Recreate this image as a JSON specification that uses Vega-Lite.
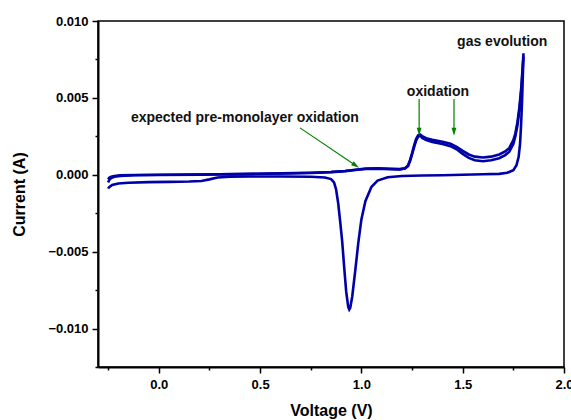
{
  "$schema": "https://vega.github.io/schema/vega-lite/v6.json",
  "width": 466,
  "height": 346,
  "autosize": {"type": "none"},
  "padding": {"left": 98, "top": 21, "right": 7, "bottom": 53},
  "background": "white",
  "config": {"view": {"stroke": "black", "strokeWidth": 1.5}, "font": "Liberation Sans"},
  "resolve": {"axis": {"x": "independent", "y": "independent"}},
  "datasets": {
    "cv": [
      {"cycle": 1, "n": 1, "v": -0.25, "i": -0.00030},
      {"cycle": 1, "n": 2, "v": -0.245, "i": -0.00020},
      {"cycle": 1, "n": 3, "v": -0.235, "i": -0.00013},
      {"cycle": 1, "n": 4, "v": -0.22, "i": -0.00008},
      {"cycle": 1, "n": 5, "v": -0.19, "i": -0.00004},
      {"cycle": 1, "n": 6, "v": -0.12, "i": -0.00001},
      {"cycle": 1, "n": 7, "v": 0.0, "i": 0.00000},
      {"cycle": 1, "n": 8, "v": 0.2, "i": 0.00002},
      {"cycle": 1, "n": 9, "v": 0.4, "i": 0.00005},
      {"cycle": 1, "n": 10, "v": 0.6, "i": 0.00009},
      {"cycle": 1, "n": 11, "v": 0.75, "i": 0.00013},
      {"cycle": 1, "n": 12, "v": 0.85, "i": 0.00018},
      {"cycle": 1, "n": 13, "v": 0.92, "i": 0.00025},
      {"cycle": 1, "n": 14, "v": 0.97, "i": 0.00033},
      {"cycle": 1, "n": 15, "v": 1.02, "i": 0.00040},
      {"cycle": 1, "n": 16, "v": 1.08, "i": 0.00042},
      {"cycle": 1, "n": 17, "v": 1.14, "i": 0.00039},
      {"cycle": 1, "n": 18, "v": 1.19, "i": 0.00037},
      {"cycle": 1, "n": 19, "v": 1.215, "i": 0.00042},
      {"cycle": 1, "n": 20, "v": 1.23, "i": 0.00060},
      {"cycle": 1, "n": 21, "v": 1.24, "i": 0.00095},
      {"cycle": 1, "n": 22, "v": 1.25, "i": 0.00140},
      {"cycle": 1, "n": 23, "v": 1.26, "i": 0.00190},
      {"cycle": 1, "n": 24, "v": 1.27, "i": 0.00232},
      {"cycle": 1, "n": 25, "v": 1.28, "i": 0.00257},
      {"cycle": 1, "n": 26, "v": 1.29, "i": 0.00262},
      {"cycle": 1, "n": 27, "v": 1.30, "i": 0.00252},
      {"cycle": 1, "n": 28, "v": 1.32, "i": 0.00238},
      {"cycle": 1, "n": 29, "v": 1.35, "i": 0.00228},
      {"cycle": 1, "n": 30, "v": 1.40, "i": 0.00215},
      {"cycle": 1, "n": 31, "v": 1.44, "i": 0.00202},
      {"cycle": 1, "n": 32, "v": 1.47, "i": 0.00182},
      {"cycle": 1, "n": 33, "v": 1.50, "i": 0.00155},
      {"cycle": 1, "n": 34, "v": 1.53, "i": 0.00132},
      {"cycle": 1, "n": 35, "v": 1.56, "i": 0.00118},
      {"cycle": 1, "n": 36, "v": 1.60, "i": 0.00112},
      {"cycle": 1, "n": 37, "v": 1.64, "i": 0.00118},
      {"cycle": 1, "n": 38, "v": 1.68, "i": 0.00132},
      {"cycle": 1, "n": 39, "v": 1.71, "i": 0.00152},
      {"cycle": 1, "n": 40, "v": 1.73, "i": 0.00175},
      {"cycle": 1, "n": 41, "v": 1.75, "i": 0.00225},
      {"cycle": 1, "n": 42, "v": 1.76, "i": 0.00270},
      {"cycle": 1, "n": 43, "v": 1.77, "i": 0.00340},
      {"cycle": 1, "n": 44, "v": 1.78, "i": 0.00440},
      {"cycle": 1, "n": 45, "v": 1.79, "i": 0.00580},
      {"cycle": 1, "n": 46, "v": 1.80, "i": 0.00790},
      {"cycle": 1, "n": 47, "v": 1.797, "i": 0.00650},
      {"cycle": 1, "n": 48, "v": 1.793, "i": 0.00480},
      {"cycle": 1, "n": 49, "v": 1.788, "i": 0.00320},
      {"cycle": 1, "n": 50, "v": 1.783, "i": 0.00200},
      {"cycle": 1, "n": 51, "v": 1.776, "i": 0.00115},
      {"cycle": 1, "n": 52, "v": 1.765, "i": 0.00060},
      {"cycle": 1, "n": 53, "v": 1.75, "i": 0.00030},
      {"cycle": 1, "n": 54, "v": 1.72, "i": 0.00013},
      {"cycle": 1, "n": 55, "v": 1.68, "i": 0.00006},
      {"cycle": 1, "n": 56, "v": 1.60, "i": 0.00003},
      {"cycle": 1, "n": 57, "v": 1.50, "i": 0.00000},
      {"cycle": 1, "n": 58, "v": 1.40, "i": -0.00003},
      {"cycle": 1, "n": 59, "v": 1.30, "i": -0.00005},
      {"cycle": 1, "n": 60, "v": 1.20, "i": -0.00008},
      {"cycle": 1, "n": 61, "v": 1.13, "i": -0.00016},
      {"cycle": 1, "n": 62, "v": 1.08, "i": -0.00038},
      {"cycle": 1, "n": 63, "v": 1.05, "i": -0.00078},
      {"cycle": 1, "n": 64, "v": 1.02, "i": -0.00170},
      {"cycle": 1, "n": 65, "v": 1.00, "i": -0.00290},
      {"cycle": 1, "n": 66, "v": 0.985, "i": -0.00440},
      {"cycle": 1, "n": 67, "v": 0.97, "i": -0.00620},
      {"cycle": 1, "n": 68, "v": 0.955, "i": -0.00790},
      {"cycle": 1, "n": 69, "v": 0.945, "i": -0.00865},
      {"cycle": 1, "n": 70, "v": 0.94, "i": -0.00876},
      {"cycle": 1, "n": 71, "v": 0.935, "i": -0.00860},
      {"cycle": 1, "n": 72, "v": 0.925, "i": -0.00760},
      {"cycle": 1, "n": 73, "v": 0.915, "i": -0.00600},
      {"cycle": 1, "n": 74, "v": 0.905, "i": -0.00430},
      {"cycle": 1, "n": 75, "v": 0.895, "i": -0.00300},
      {"cycle": 1, "n": 76, "v": 0.885, "i": -0.00180},
      {"cycle": 1, "n": 77, "v": 0.875, "i": -0.00095},
      {"cycle": 1, "n": 78, "v": 0.865, "i": -0.00050},
      {"cycle": 1, "n": 79, "v": 0.85, "i": -0.00028},
      {"cycle": 1, "n": 80, "v": 0.82, "i": -0.00018},
      {"cycle": 1, "n": 81, "v": 0.75, "i": -0.00013},
      {"cycle": 1, "n": 82, "v": 0.6, "i": -0.00011},
      {"cycle": 1, "n": 83, "v": 0.45, "i": -0.00011},
      {"cycle": 1, "n": 84, "v": 0.35, "i": -0.00013},
      {"cycle": 1, "n": 85, "v": 0.29, "i": -0.00018},
      {"cycle": 1, "n": 86, "v": 0.25, "i": -0.00030},
      {"cycle": 1, "n": 87, "v": 0.21, "i": -0.00040},
      {"cycle": 1, "n": 88, "v": 0.15, "i": -0.00044},
      {"cycle": 1, "n": 89, "v": 0.05, "i": -0.00046},
      {"cycle": 1, "n": 90, "v": -0.05, "i": -0.00048},
      {"cycle": 1, "n": 91, "v": -0.15, "i": -0.00052},
      {"cycle": 1, "n": 92, "v": -0.20, "i": -0.00057},
      {"cycle": 1, "n": 93, "v": -0.23, "i": -0.00066},
      {"cycle": 1, "n": 94, "v": -0.245, "i": -0.00080},
      {"cycle": 1, "n": 95, "v": -0.25, "i": -0.00090},
      {"cycle": 2, "n": 1, "v": -0.25, "i": -0.00050},
      {"cycle": 2, "n": 2, "v": -0.245, "i": -0.00035},
      {"cycle": 2, "n": 3, "v": -0.235, "i": -0.00022},
      {"cycle": 2, "n": 4, "v": -0.22, "i": -0.00013},
      {"cycle": 2, "n": 5, "v": -0.19, "i": -0.00007},
      {"cycle": 2, "n": 6, "v": -0.12, "i": -0.00003},
      {"cycle": 2, "n": 7, "v": 0.0, "i": -0.00001},
      {"cycle": 2, "n": 8, "v": 0.2, "i": 0.00001},
      {"cycle": 2, "n": 9, "v": 0.4, "i": 0.00004},
      {"cycle": 2, "n": 10, "v": 0.6, "i": 0.00008},
      {"cycle": 2, "n": 11, "v": 0.75, "i": 0.00012},
      {"cycle": 2, "n": 12, "v": 0.85, "i": 0.00017},
      {"cycle": 2, "n": 13, "v": 0.92, "i": 0.00024},
      {"cycle": 2, "n": 14, "v": 0.97, "i": 0.00031},
      {"cycle": 2, "n": 15, "v": 1.02, "i": 0.00038},
      {"cycle": 2, "n": 16, "v": 1.08, "i": 0.00040},
      {"cycle": 2, "n": 17, "v": 1.14, "i": 0.00037},
      {"cycle": 2, "n": 18, "v": 1.19, "i": 0.00035},
      {"cycle": 2, "n": 19, "v": 1.215, "i": 0.00040},
      {"cycle": 2, "n": 20, "v": 1.23, "i": 0.00056},
      {"cycle": 2, "n": 21, "v": 1.24, "i": 0.00088},
      {"cycle": 2, "n": 22, "v": 1.25, "i": 0.00132},
      {"cycle": 2, "n": 23, "v": 1.26, "i": 0.00180},
      {"cycle": 2, "n": 24, "v": 1.27, "i": 0.00222},
      {"cycle": 2, "n": 25, "v": 1.28, "i": 0.00248},
      {"cycle": 2, "n": 26, "v": 1.29, "i": 0.00254},
      {"cycle": 2, "n": 27, "v": 1.30, "i": 0.00240},
      {"cycle": 2, "n": 28, "v": 1.32, "i": 0.00226},
      {"cycle": 2, "n": 29, "v": 1.35, "i": 0.00214},
      {"cycle": 2, "n": 30, "v": 1.40, "i": 0.00200},
      {"cycle": 2, "n": 31, "v": 1.44, "i": 0.00186},
      {"cycle": 2, "n": 32, "v": 1.47, "i": 0.00166},
      {"cycle": 2, "n": 33, "v": 1.50, "i": 0.00136},
      {"cycle": 2, "n": 34, "v": 1.53, "i": 0.00110},
      {"cycle": 2, "n": 35, "v": 1.56, "i": 0.00094},
      {"cycle": 2, "n": 36, "v": 1.60, "i": 0.00088},
      {"cycle": 2, "n": 37, "v": 1.64, "i": 0.00094},
      {"cycle": 2, "n": 38, "v": 1.68, "i": 0.00108},
      {"cycle": 2, "n": 39, "v": 1.71, "i": 0.00128},
      {"cycle": 2, "n": 40, "v": 1.73, "i": 0.00150},
      {"cycle": 2, "n": 41, "v": 1.75, "i": 0.00200},
      {"cycle": 2, "n": 42, "v": 1.76, "i": 0.00250},
      {"cycle": 2, "n": 43, "v": 1.77, "i": 0.00320},
      {"cycle": 2, "n": 44, "v": 1.78, "i": 0.00420},
      {"cycle": 2, "n": 45, "v": 1.79, "i": 0.00560},
      {"cycle": 2, "n": 46, "v": 1.80, "i": 0.00770}
    ],
    "labels": [
      {"text": "expected pre-monolayer oxidation", "v": 0.425, "i": 0.0037},
      {"text": "oxidation", "v": 1.378, "i": 0.00539},
      {"text": "gas evolution", "v": 1.695, "i": 0.00864}
    ],
    "arrowsDown": [
      {"v": 1.285, "i": 0.00493, "hv": 1.285, "hi": 0.00279},
      {"v": 1.457, "i": 0.00493, "hv": 1.457, "hi": 0.00279}
    ],
    "arrowsDiag": [
      {"v": 0.697, "i": 0.00305, "hv": 0.972, "hi": 0.00060}
    ]
  },
  "layer": [
    {
      "data": {"name": "cv"},
      "mark": {"type": "line", "color": "#0000a8", "strokeWidth": 2.6, "clip": true},
      "encoding": {
        "x": {
          "field": "v", "type": "quantitative",
          "scale": {"domain": [-0.3, 2.0], "nice": false, "zero": false},
          "axis": {
            "title": "Voltage (V)",
            "orient": "bottom",
            "values": [0, 0.5, 1, 1.5, 2],
            "format": ".1f",
            "tickSize": 6,
            "grid": false,
            "domainColor": "black", "domainWidth": 2,
            "tickColor": "black", "tickWidth": 1.5,
            "labelFont": "Liberation Sans", "labelFontWeight": "bold", "labelFontSize": 13, "labelColor": "black",
            "labelPadding": 5, "labelOverlap": false, "labelBound": false, "labelFlush": false,
            "titleFont": "Liberation Sans", "titleFontSize": 16, "titleFontWeight": "bold", "titleColor": "black",
            "titlePadding": 11
          }
        },
        "y": {
          "field": "i", "type": "quantitative",
          "scale": {"domain": [-0.0125, 0.010], "nice": false, "zero": false},
          "axis": {
            "title": "Current (A)",
            "orient": "left",
            "values": [-0.01, -0.005, 0, 0.005, 0.01],
            "format": ".3f",
            "tickSize": 6,
            "grid": false,
            "domainColor": "black", "domainWidth": 2,
            "tickColor": "black", "tickWidth": 1.5,
            "labelFont": "Liberation Sans", "labelFontWeight": "bold", "labelFontSize": 13, "labelColor": "black",
            "labelPadding": 4, "labelOverlap": false, "labelBound": false, "labelFlush": false,
            "titleFont": "Liberation Sans", "titleFontSize": 16, "titleFontWeight": "bold", "titleColor": "black",
            "titlePadding": 20
          }
        },
        "detail": {"field": "cycle", "type": "nominal"},
        "order": {"field": "n", "type": "quantitative"}
      }
    },
    {
      "data": {"name": "arrowsDown"},
      "mark": {"type": "rule", "color": "#008000", "strokeWidth": 1.2},
      "encoding": {
        "x": {
          "field": "v", "type": "quantitative",
          "axis": {"orient": "bottom", "values": [-0.25, 0.25, 0.75, 1.25, 1.75], "labels": false, "domain": false, "grid": false, "title": null, "tickSize": 3, "tickColor": "black", "tickWidth": 1.5}
        },
        "y": {
          "field": "i", "type": "quantitative",
          "axis": {"orient": "left", "values": [-0.0125, -0.0075, -0.0025, 0.0025, 0.0075], "labels": false, "domain": false, "grid": false, "title": null, "tickSize": 3, "tickColor": "black", "tickWidth": 1.5}
        },
        "x2": {"field": "hv"},
        "y2": {"field": "hi"}
      }
    },
    {
      "data": {"name": "arrowsDiag"},
      "mark": {"type": "rule", "color": "#008000", "strokeWidth": 1.2},
      "encoding": {
        "x": {"field": "v", "type": "quantitative", "axis": null},
        "y": {"field": "i", "type": "quantitative", "axis": null},
        "x2": {"field": "hv"},
        "y2": {"field": "hi"}
      }
    },
    {
      "data": {"name": "arrowsDown"},
      "mark": {"type": "point", "shape": "M-0.6,-1L0.6,-1L0,1Z", "filled": true, "color": "#008000", "opacity": 1, "size": 64, "strokeWidth": 0},
      "encoding": {
        "x": {"field": "hv", "type": "quantitative", "axis": null},
        "y": {"field": "hi", "type": "quantitative", "axis": null}
      }
    },
    {
      "data": {"name": "arrowsDiag"},
      "mark": {"type": "point", "shape": "M-0.6,-1L0.6,-1L0,1Z", "filled": true, "color": "#008000", "opacity": 1, "size": 64, "strokeWidth": 0, "angle": 304},
      "encoding": {
        "x": {"field": "hv", "type": "quantitative", "axis": null},
        "y": {"field": "hi", "type": "quantitative", "axis": null}
      }
    },
    {
      "data": {"name": "labels"},
      "mark": {"type": "text", "font": "Liberation Sans", "fontWeight": "bold", "fontSize": 14, "color": "#111111", "align": "center", "baseline": "middle"},
      "encoding": {
        "x": {"field": "v", "type": "quantitative", "axis": null},
        "y": {"field": "i", "type": "quantitative", "axis": null},
        "text": {"field": "text"}
      }
    }
  ]
}
